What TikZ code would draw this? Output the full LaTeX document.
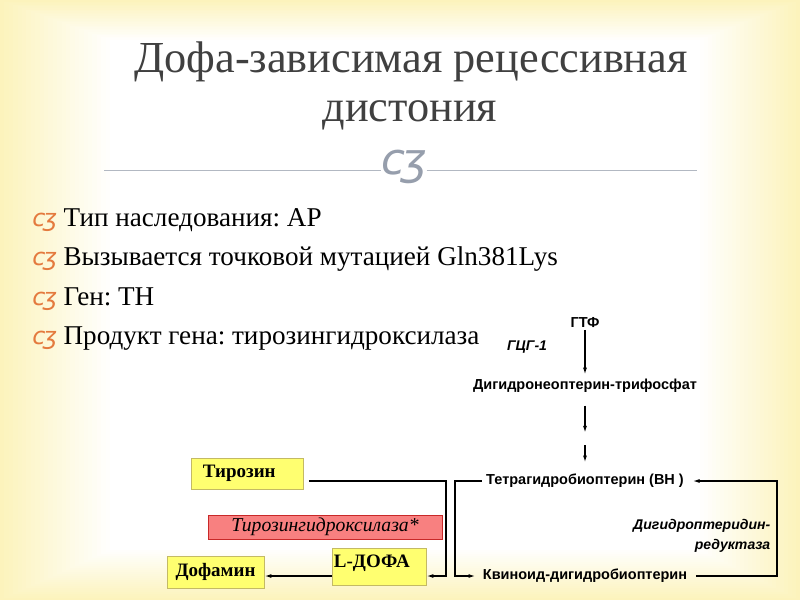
\documentclass[tikz,border=0pt]{standalone}
\usepackage{fontspec}
\setmainfont{Liberation Serif}
\setsansfont{Liberation Sans}
\newfontfamily\ornfont{DejaVu Sans}
\usetikzlibrary{arrows.meta}
\definecolor{slidebg}{RGB}{252,243,188}
\definecolor{titlegray}{RGB}{64,64,64}
\definecolor{ornorange}{RGB}{228,122,62}
\definecolor{orngray}{RGB}{150,158,172}
\definecolor{rulegray}{RGB}{178,184,194}
\definecolor{boxyellow}{RGB}{255,255,112}
\definecolor{boxedge}{RGB}{196,186,100}
\definecolor{enzred}{RGB}{248,128,128}
\definecolor{enzedge}{RGB}{200,40,40}
\tikzset{title/.style={anchor=base,inner sep=0pt,text=titlegray,
  font=\fontsize{31.5}{36}\selectfont},
 item/.style={anchor=base west,inner sep=0pt,font=\frenchspacing\fontsize{19.3}{22}\selectfont},
 ybox/.style={draw=boxedge,fill=boxyellow,inner sep=0pt,
  font=\bfseries\fontsize{13.5}{15}\selectfont},
 chem/.style={inner sep=1pt,font=\sffamily\bfseries\fontsize{10.3}{12}\selectfont},
 enz/.style={inner sep=1pt,font=\sffamily\bfseries\itshape\fontsize{10}{14}\selectfont},
 link/.style={line width=1.1pt,-{Latex[length=5pt,width=2.8pt]}}}
\newcommand{\orn}{{\ornfont\itshape c\kern-.1em ʒ}}

\begin{document}
\begin{tikzpicture}[x=0.025cm,y=-0.025cm]
\useasboundingbox (0,0) rectangle (800,600);
% slide background
\foreach \i [evaluate=\i as \c using int(100-4*\i)] in {0,...,25}
 \fill[slidebg!\c!white] (4.4*\i,1.6*\i) rectangle (800-4*\i,600-2*\i);
% title
\node[title] (title1) at (411,72) {Дофа-зависимая рецессивная};
\node[title] (title2) at (410,121) {дистония};
\node[text=orngray,inner sep=0pt,font=\fontsize{31}{31}\selectfont] (sep) at (404,167) {\orn};
\coordinate (ruleL) at (104,170);
\coordinate (ruleR) at (697,170);
\draw[rulegray] (ruleL) -- (sep.west |- ruleL) (sep.east |- ruleR) -- (ruleR);
% bullets
\node[item] (it1) at (32,226) {\textcolor{ornorange}{\fontsize{17}{20}\selectfont\orn}\ Тип наследования: АР};
\node[item] (it2) at (32,265) {\textcolor{ornorange}{\fontsize{17}{20}\selectfont\orn}\ Вызывается точковой мутацией Gln381Lys};
\node[item] (it3) at (32,305) {\textcolor{ornorange}{\fontsize{17}{20}\selectfont\orn}\ Ген: ТН};
\node[item] (it4) at (32,344) {\textcolor{ornorange}{\fontsize{17}{20}\selectfont\orn}\ Продукт гена: тирозингидроксилаза};
% pterin pathway
\node[chem] (gtf) at (585,323) {ГТФ};
\node[enz] (gcg) at (527,347) {ГЦГ-1};
\node[chem] (dnp) at (585,386) {Дигидронеоптерин-трифосфат};
\node[chem] (bh4) at (585,481) {Тетрагидробиоптерин (ВН )};
\node[chem] (qbh2) at (585,576) {Квиноид-дигидробиоптерин};
\node[enz,align=right,anchor=north east] (dhpr) at (772,518) {Дигидроптеридин-\\редуктаза};
\coordinate (s1) at (585,433);
\coordinate (s2) at (585,445);
\coordinate (rt) at (777,576);
\coordinate (lt) at (455,481);
\draw[link,shorten >=2pt] (gtf) -- (dnp);
\draw[link,shorten <=8pt] (dnp) -- (s1);
\draw[link,shorten >=7pt] (s2) -- (bh4);
\draw[link,shorten <=5pt,shorten >=5pt] (qbh2) -- (rt) |- (bh4);
\draw[link,shorten <=2pt,shorten >=4pt] (bh4) -- (lt) |- (qbh2);
% tyrosine -> dopa
\node[ybox,minimum width=2.8cm,minimum height=0.775cm,text width=2.2cm,
 inner xsep=0.3cm,align=left] (tyr) at (247,473.5) {Тирозин};
\node[draw=enzedge,fill=enzred,minimum width=5.85cm,minimum height=0.6cm,inner sep=0pt,
 font=\itshape\fontsize{14}{15}\selectfont] (th) at (325,527) {Тирозингидроксилаза*};
\node[ybox,minimum width=2.425cm,minimum height=0.8cm] (dopa) at (215.5,572) {Дофамин};
\node[ybox,minimum width=2.35cm,minimum height=0.925cm,text width=2.25cm,
 inner xsep=0.05cm,align=left,text depth=0.25cm] (ldopa) at (379,566.5) {L-ДОФА};
\coordinate (tt) at (446,481);
\coordinate (tb) at (446,576);
\draw[link,shorten <=4pt] (tyr.east |- tt) -- (tt) -- (tb) -- (ldopa.east |- tb);
\draw[link] (ldopa.west |- tb) -- (dopa.east |- tb);
\end{tikzpicture}
\end{document}
